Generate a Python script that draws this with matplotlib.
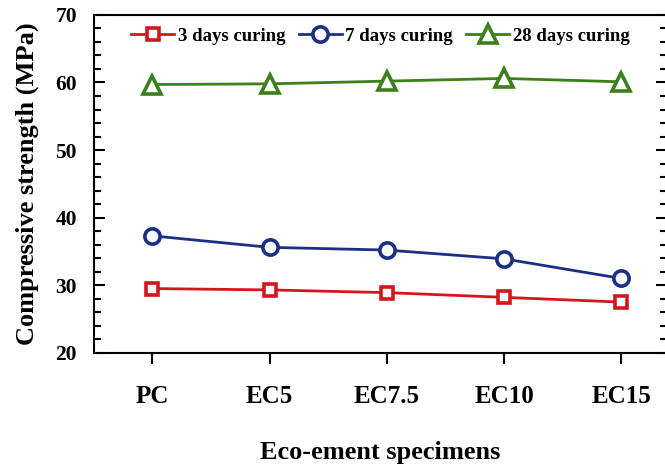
import matplotlib.pyplot as plt
from matplotlib.ticker import MultipleLocator

SPECIMENS = ["PC", "EC5", "EC7.5", "EC10", "EC15"]
DAYS_3 = [29.5, 29.3, 28.9, 28.2, 27.5]
DAYS_7 = [37.3, 35.6, 35.2, 33.9, 31.0]
DAYS_28 = [59.7, 59.8, 60.2, 60.6, 60.1]
LABELS = ["3 days curing", "7 days curing", "28 days curing"]

RED = "#d4161c"
BLUE = "#1c2f86"
GREEN = "#3d7f1b"


def main():
    plt.rcParams["font.family"] = "Liberation Serif"
    plt.rcParams["font.weight"] = "bold"

    fig = plt.figure(figsize=(6.65, 4.66), dpi=100)
    ax = fig.add_axes([0.141, 0.243, 0.862, 0.725])
    x = range(len(SPECIMENS))

    ax.plot(x, DAYS_3, marker="s", color=RED, label=LABELS[0], ms=9, lw=2, mew=2.6, mfc="white")
    ax.plot(x, DAYS_7, marker="o", color=BLUE, label=LABELS[1], ms=11, lw=2, mew=2.6, mfc="white")
    ax.plot(x, DAYS_28, marker="^", color=GREEN, label=LABELS[2], ms=13, lw=2, mew=2.6, mfc="white")

    ax.set_ylim(20, 70)
    ax.set_xlim(-0.5, 4.39)
    ax.set_xticks(list(x))
    ax.set_xticklabels(SPECIMENS)
    ax.yaxis.set_major_locator(MultipleLocator(10))
    ax.yaxis.set_minor_locator(MultipleLocator(2))

    ax.tick_params(axis="y", which="both", direction="in", left=True, right=True, width=1.5)
    ax.tick_params(axis="y", which="major", length=8, labelsize=15.5, pad=12)
    ax.tick_params(axis="y", which="minor", length=5)
    ax.tick_params(axis="x", which="major", direction="out", length=8, width=1.5,
                   labelsize=18, pad=15, top=False)
    for sp in ax.spines.values():
        sp.set_linewidth(1.5)

    ax.set_xlabel("Eco-ement specimens", fontsize=19, fontweight="bold", labelpad=24)
    ax.set_ylabel("Compressive strength (MPa)", fontsize=19, fontweight="bold", labelpad=12)

    ax.legend(loc="upper center", ncol=3, frameon=False, handlelength=2.3,
              handletextpad=0.2, columnspacing=0.7, bbox_to_anchor=(0.5, 1.012),
              prop={"weight": "bold", "size": 13.5})

    fig.savefig("out.png", dpi=100)


if __name__ == "__main__":
    main()
